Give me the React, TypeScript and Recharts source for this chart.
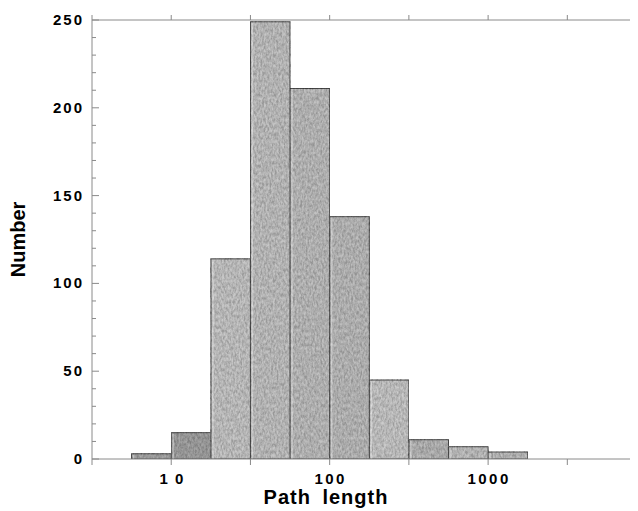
import { ComposedChart, XAxis, YAxis, ReferenceArea, Line, Label } from 'recharts';

// histogram bins on a log scale (bin edges) and their counts
const binEdges = [5.62, 10, 17.8, 31.6, 56.2, 100, 178, 316, 562, 1000, 1778];
const counts = [3, 15, 114, 249, 211, 138, 45, 11, 7, 4];
const binShades = ['#acacac', '#a6a6a6', '#cacaca', '#c6c6c6', '#c2c2c2', '#c0c0c0', '#cccccc', '#bcbcbc', '#c6c6c6', '#c4c4c4'];

const xTicks = [3.162, 10, 31.62, 100, 316.2, 1000, 3162];
const xTickLabels = ['', '1 0', '', '100', '', '1000', ''];
const yTicks = [0, 10, 20, 30, 40, 50, 60, 70, 80, 90, 100, 110, 120, 130, 140, 150, 160, 170, 180, 190, 200, 210, 220, 230, 240, 250];

const bins = counts.map((count, i) => ({
  lo: binEdges[i],
  hi: binEdges[i + 1],
  mid: Math.sqrt(binEdges[i] * binEdges[i + 1]),
  count,
  shade: binShades[i],
}));

const FONT = '"Liberation Sans", Arial, sans-serif';
const AXIS = '#8a8a8a';

const YTick = (props: any) => {
  const { x, y, payload } = props;
  const major = payload.value % 50 === 0;
  return (
    <g>
      <line x1={x} x2={x + (major ? 7 : 4)} y1={y} y2={y} stroke={AXIS} strokeWidth={1} />
      {major && (
        <text x={x - 8} y={y + 5} textAnchor="end" fontFamily={FONT} fontWeight={700} fontSize={15} letterSpacing={2} fill="#000">
          {payload.value}
        </text>
      )}
    </g>
  );
};

const XTick = (props: any) => {
  const { x, y, payload } = props;
  const label = xTickLabels[xTicks.indexOf(payload.value)];
  if (!label) return null;
  const spaced = label.includes(' ');
  return (
    <text x={x + 1} y={y + 17} textAnchor="middle" fontFamily={FONT} fontWeight={700} fontSize={15} letterSpacing={spaced ? 1.5 : 2.5} fill="#000">
      {label}
    </text>
  );
};

const BinRect = (props: any) => {
  const { x, y, width, height, fill } = props;
  return (
    <g>
      <rect x={x} y={y} width={width} height={height} fill={fill} stroke="#4a4a4a" strokeWidth={1} filter="url(#grain)" />
      <line x1={x + 2} x2={x + 2} y1={y + 1} y2={y + height} stroke="#ffffff" strokeOpacity={0.35} strokeWidth={1.5} />
    </g>
  );
};

export default function App() {
  return (
    <div style={{ width: 630, height: 503 }}>
      <ComposedChart
        width={630}
        height={503}
        data={bins}
        margin={{ top: 11, right: 0, left: 0, bottom: 0 }}
      >
        <defs>
          <filter id="grain" x="0" y="0" width="100%" height="100%">
            <feTurbulence type="fractalNoise" baseFrequency="0.55 0.28" numOctaves={3} seed={4} result="noise" />
            <feColorMatrix in="noise" type="saturate" values="0" result="gray" />
            <feComponentTransfer in="gray" result="soft">
              <feFuncR type="linear" slope={2.4} intercept={-0.7} />
              <feFuncG type="linear" slope={2.4} intercept={-0.7} />
              <feFuncB type="linear" slope={2.4} intercept={-0.7} />
              <feFuncA type="table" tableValues="0.45 0.45" />
            </feComponentTransfer>
            <feComposite in="soft" in2="SourceGraphic" operator="in" result="clip" />
            <feBlend in="clip" in2="SourceGraphic" mode="multiply" />
          </filter>
        </defs>
        <XAxis
          dataKey="mid"
          type="number"
          scale="log"
          domain={[3.162, 8831]}
          allowDataOverflow
          ticks={xTicks}
          interval={0}
          height={52}
          tickSize={6}
          tickMargin={2}
          axisLine={{ stroke: AXIS }}
          tickLine={{ stroke: AXIS }}
          tick={<XTick />}
        >
          <Label
            content={(p: any) => (
              <text
                x={p.viewBox.x + 234}
                y={p.viewBox.y + 45}
                textAnchor="middle"
                fontFamily={FONT}
                fontWeight={700}
                fontSize={20}
                letterSpacing={1}
                wordSpacing={5}
                fill="#000"
              >
                Path length
              </text>
            )}
          />
        </XAxis>
        <XAxis
          xAxisId="top"
          orientation="top"
          dataKey="mid"
          type="number"
          scale="log"
          domain={[3.162, 8831]}
          allowDataOverflow
          ticks={xTicks}
          interval={0}
          height={1}
          tickSize={5}
          tickMargin={0}
          axisLine={{ stroke: AXIS }}
          tickLine={{ stroke: AXIS }}
          tick={() => null}
        />
        <YAxis
          type="number"
          domain={[0, 250]}
          ticks={yTicks}
          interval={0}
          width={84}
          tickSize={0}
          tickMargin={0}
          tickLine={false}
          axisLine={{ stroke: AXIS }}
          tick={<YTick />}
        >
          <Label
            content={(p: any) => (
              <text
                x={p.viewBox.x + 17}
                y={p.viewBox.y + p.viewBox.height / 2}
                textAnchor="middle"
                transform={`rotate(-90 ${p.viewBox.x + 17} ${p.viewBox.y + p.viewBox.height / 2})`}
                fontFamily={FONT}
                fontWeight={700}
                fontSize={20}
                fill="#000"
              >
                Number
              </text>
            )}
          />
        </YAxis>
        {bins.map((b) => (
          <ReferenceArea
            key={b.lo}
            x1={b.lo}
            x2={b.hi}
            y1={0}
            y2={b.count}
            fill={b.shade}
            ifOverflow="visible"
            shape={<BinRect />}
          />
        ))}
        <Line dataKey="count" stroke="none" dot={false} activeDot={false} isAnimationActive={false} legendType="none" />
      </ComposedChart>
    </div>
  );
}
